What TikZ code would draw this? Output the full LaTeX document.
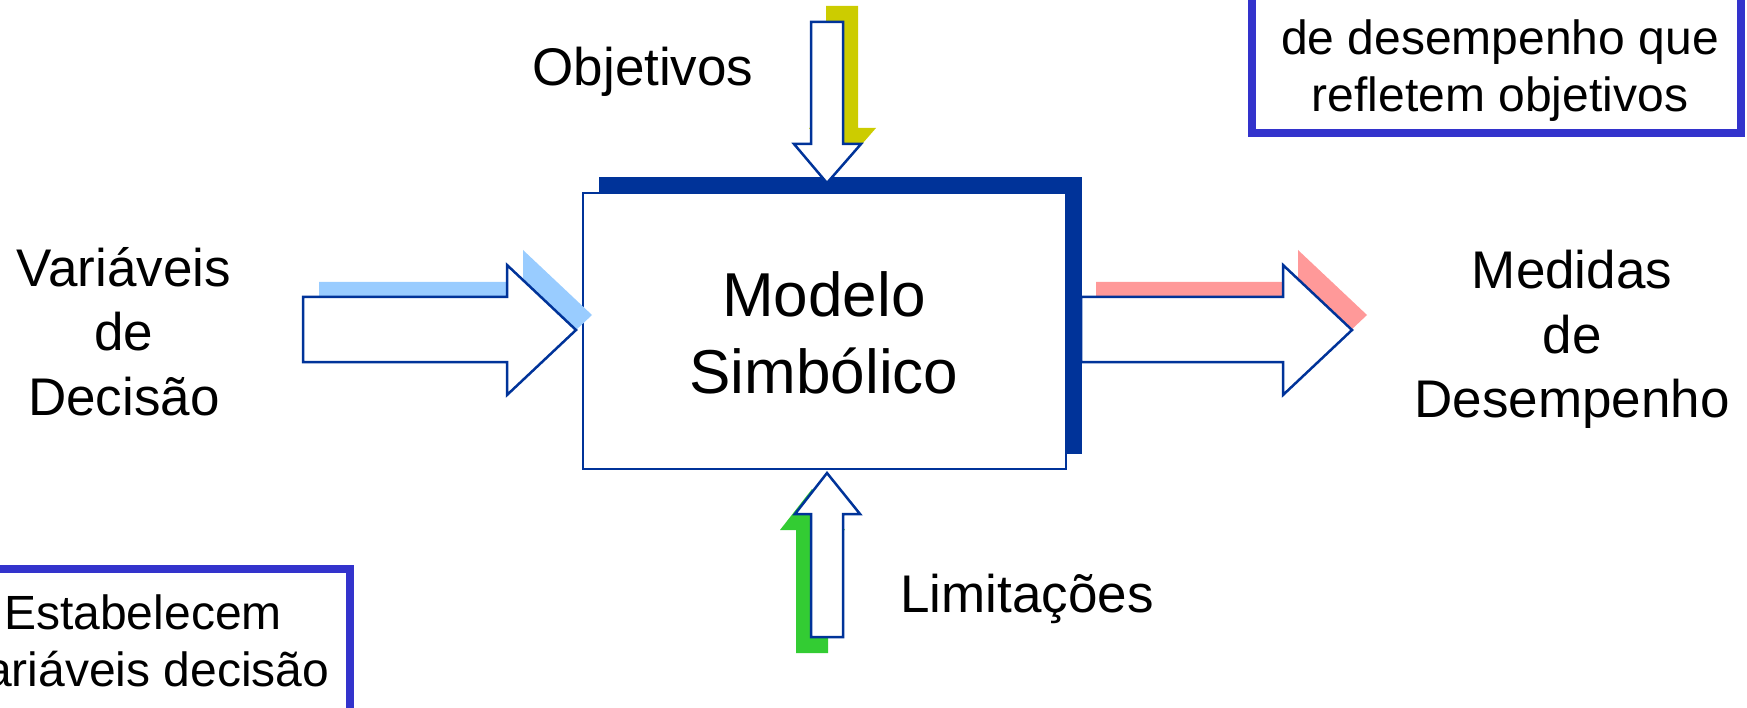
\documentclass[tikz,border=0pt]{standalone}
\usepackage{fontspec}
\setmainfont{Liberation Sans}
\definecolor{dblue}{HTML}{003399}
\definecolor{tblue}{HTML}{3333CC}
\definecolor{lblue}{HTML}{99CCFF}
\definecolor{lpink}{HTML}{FF9999}
\definecolor{lyellow}{HTML}{CCCC00}
\definecolor{lgreen}{HTML}{33CC33}
\begin{document}
\begin{tikzpicture}[x=1pt,y=-1pt,
  blockarrow/.style={draw=dblue, line width=2.5pt, fill=white, line join=miter},
  modelbox/.style={draw=dblue, line width=2.5pt, fill=white, inner sep=0, minimum width=483pt, minimum height=276pt},
  notebox/.style={draw=tblue, line width=8pt, fill=white, inner sep=0},
  bigtxt/.style={anchor=base, inner sep=0, font=\fontsize{62}{76}\selectfont},
  lbltxt/.style={anchor=base, inner sep=0, font=\fontsize{53}{64}\selectfont},
  notetxt/.style={anchor=base, inner sep=0, font=\fontsize{48}{57}\selectfont}]
\useasboundingbox (0,0) rectangle (1747,708);

% note boxes
\node[notebox, minimum width=489pt, minimum height=190pt] (noteR) at (1496.5,38) {};
\node[notetxt] (noteR1) at (1500,55) {de desempenho que};
\node[notetxt] (noteR2) at (1500,112) {refletem objetivos};

\node[notebox, minimum width=414pt, minimum height=190pt] (noteL) at (143,664) {};
\node[notetxt] (noteL1) at (143,629) {Estabelecem};
\node[notetxt] (noteL2) at (143,686) {Variáveis decisão};

% model box with shadow
\fill[dblue] (599,177) rectangle (1082,454);
\node[modelbox] (model) at (824.5,331) {};
\node[bigtxt] (m1) at (824,317) {Modelo};
\node[bigtxt] (m2) at (824,393) {Simbólico};

% left arrow
\fill[lblue, shift={(16,-15)}] (303,297) -- (507,297) -- (507,265) -- (576,330) -- (507,395) -- (507,362) -- (303,362) -- cycle;
\draw[blockarrow] (303,297) -- (507,297) -- (507,265) -- (576,330) -- (507,395) -- (507,362) -- (303,362) -- cycle;

% right arrow
\fill[lpink, shift={(15,-15)}] (1081,297) -- (1283,297) -- (1283,265) -- (1352,330) -- (1283,395) -- (1283,362) -- (1081,362) -- cycle;
\draw[blockarrow] (1081,297) -- (1283,297) -- (1283,265) -- (1352,330) -- (1283,395) -- (1283,362) -- (1081,362) -- cycle;

% top arrow
\fill[lyellow, shift={(15,-16)}] (811,22) -- (843,22) -- (843,144) -- (861,144) -- (827,183) -- (794,144) -- (811,144) -- cycle;
\draw[blockarrow] (811,22) -- (843,22) -- (843,144) -- (861,144) -- (827,183) -- (794,144) -- (811,144) -- cycle;

% bottom arrow
\fill[lgreen, shift={(-15,16)}] (811,637) -- (843,637) -- (843,514) -- (860,514) -- (827,473) -- (795,514) -- (811,514) -- cycle;
\draw[blockarrow] (811,637) -- (843,637) -- (843,514) -- (860,514) -- (827,473) -- (795,514) -- (811,514) -- cycle;

% labels
\node[lbltxt] (obj) at (643,86) {Objetivos};
\node[lbltxt] (var1) at (124,287) {Variáveis};
\node[lbltxt] (var2) at (124,351) {de};
\node[lbltxt] (var3) at (124,415) {Decisão};
\node[lbltxt] (med1) at (1572,289) {Medidas};
\node[lbltxt] (med2) at (1572,353) {de};
\node[lbltxt] (med3) at (1572,417) {Desempenho};
\node[lbltxt] (lim) at (1027,612) {Limitações};
\end{tikzpicture}
\end{document}
